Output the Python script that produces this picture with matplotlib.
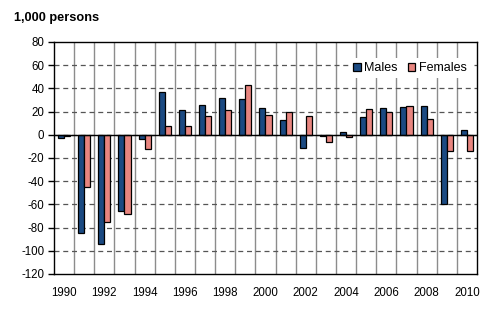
import matplotlib
matplotlib.use("Agg")
import matplotlib.pyplot as plt
from matplotlib.patches import Patch
import numpy as np

plt.rcParams['font.family'] = ['Liberation Sans', 'DejaVu Sans']
plt.rcParams['axes.unicode_minus'] = False

years = list(range(1990, 2011))
males = [-3, -85, -94, -66, -4, 37, 21, 26, 32, 31, 23, 13, -11, -1, 2, 15, 23, 24, 25, -60, 4]
females = [-1, -45, -75, -68, -12, 8, 8, 16, 21, 43, 17, 20, 16, -6, -2, 22, 20, 25, 14, -14, -14]
xlabels = [str(y) for y in years[::2]]

male_col = '#1b4a82'
female_col = '#e8857f'

fig = plt.figure(figsize=(5.02, 3.23), dpi=100)
ax = fig.add_axes([54/502, 49/323, 423/502, 232/323])

x = np.arange(len(years))
w = 0.3
ax.bar(x - w/2, males, w, color=male_col, edgecolor='black', linewidth=0.9, zorder=3)
ax.bar(x + w/2, females, w, color=female_col, edgecolor='black', linewidth=0.9, zorder=3)

# grid: solid grey between years, dashed horizontal
for b in np.arange(0.5, len(years) - 1, 1):
    ax.axvline(b, color='#8c8c8c', lw=1.0, zorder=1)
for yv in range(-100, 80, 20):
    ax.axhline(yv, color='#555555', lw=0.9, ls=(0, (4, 3)), zorder=1)
ax.axhline(0, color='black', lw=1.0, zorder=4)

ax.set_xlim(-0.5, len(years) - 0.5)
ax.set_ylim(-120, 80)
ax.set_yticks(range(-120, 81, 20))
ax.set_xticks(x[::2])
ax.set_xticklabels(xlabels)
ax.tick_params(axis='x', length=0, pad=9, labelsize=8.3)
ax.tick_params(axis='y', length=4, width=1, pad=3, labelsize=8.3)
for s in ax.spines.values():
    s.set_linewidth(1.0)
    s.set_zorder(5)

fig.text(14/502, 1 - 18/323, '1,000 persons', fontsize=9.2, fontweight='bold', va='center', ha='left')

handles = [Patch(facecolor=male_col, edgecolor='black', lw=0.9),
           Patch(facecolor=female_col, edgecolor='black', lw=0.9)]
leg = ax.legend(handles, ['Males', 'Females'], loc='upper right', bbox_to_anchor=(0.985, 0.93),
                ncol=2, frameon=True, fancybox=False, fontsize=9, handlelength=0.6,
                handleheight=0.6, handletextpad=0.3, columnspacing=0.8, borderpad=0.3,
                borderaxespad=0)
leg.get_frame().set_edgecolor('none')
leg.get_frame().set_facecolor('white')
leg.get_frame().set_alpha(1)
leg.set_zorder(6)

fig.savefig('out.png', dpi=100)
